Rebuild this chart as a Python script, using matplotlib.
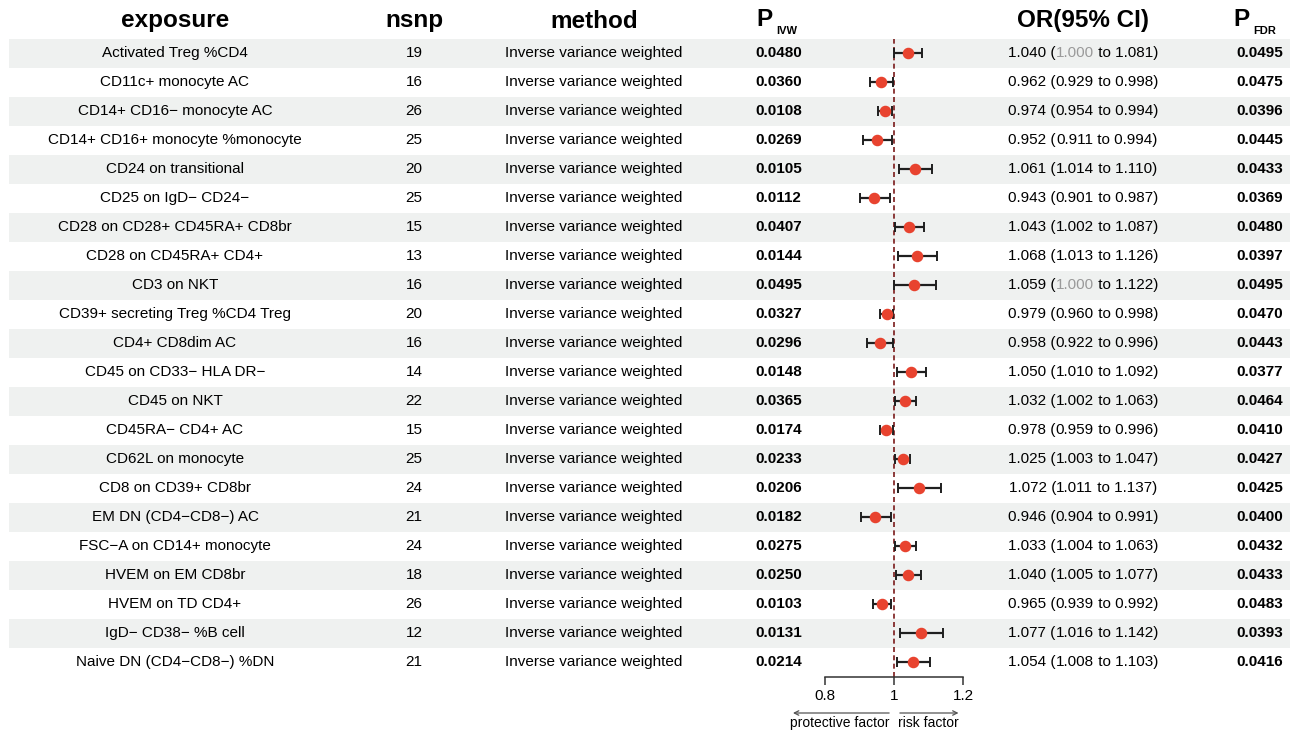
import matplotlib
matplotlib.use("Agg")
import matplotlib.pyplot as plt
from matplotlib.patches import Rectangle

plt.rcParams['font.family'] = ['Liberation Sans', 'DejaVu Sans']

# ---- data -------------------------------------------------------------
exposure = [
    "Activated Treg %CD4", "CD11c+ monocyte AC", "CD14+ CD16\u2212 monocyte AC",
    "CD14+ CD16+ monocyte %monocyte", "CD24 on transitional",
    "CD25 on IgD\u2212 CD24\u2212", "CD28 on CD28+ CD45RA+ CD8br",
    "CD28 on CD45RA+ CD4+", "CD3 on NKT", "CD39+ secreting Treg %CD4 Treg",
    "CD4+ CD8dim AC", "CD45 on CD33\u2212 HLA DR\u2212", "CD45 on NKT",
    "CD45RA\u2212 CD4+ AC", "CD62L on monocyte", "CD8 on CD39+ CD8br",
    "EM DN (CD4\u2212CD8\u2212) AC", "FSC\u2212A on CD14+ monocyte",
    "HVEM on EM CD8br", "HVEM on TD CD4+", "IgD\u2212 CD38\u2212 %B cell",
    "Naive DN (CD4\u2212CD8\u2212) %DN",
]
nsnp = [19, 16, 26, 25, 20, 25, 15, 13, 16, 20, 16, 14, 22, 15, 25, 24, 21,
        24, 18, 26, 12, 21]
method = "Inverse variance weighted"
p_ivw = [0.0480, 0.0360, 0.0108, 0.0269, 0.0105, 0.0112, 0.0407, 0.0144,
         0.0495, 0.0327, 0.0296, 0.0148, 0.0365, 0.0174, 0.0233, 0.0206,
         0.0182, 0.0275, 0.0250, 0.0103, 0.0131, 0.0214]
or_est = [1.040, 0.962, 0.974, 0.952, 1.061, 0.943, 1.043, 1.068, 1.059,
          0.979, 0.958, 1.050, 1.032, 0.978, 1.025, 1.072, 0.946, 1.033,
          1.040, 0.965, 1.077, 1.054]
or_lo = [1.000, 0.929, 0.954, 0.911, 1.014, 0.901, 1.002, 1.013, 1.000,
         0.960, 0.922, 1.010, 1.002, 0.959, 1.003, 1.011, 0.904, 1.004,
         1.005, 0.939, 1.016, 1.008]
or_hi = [1.081, 0.998, 0.994, 0.994, 1.110, 0.987, 1.087, 1.126, 1.122,
         0.998, 0.996, 1.092, 1.063, 0.996, 1.047, 1.137, 0.991, 1.063,
         1.077, 0.992, 1.142, 1.103]
p_fdr = [0.0495, 0.0475, 0.0396, 0.0445, 0.0433, 0.0369, 0.0480, 0.0397,
         0.0495, 0.0470, 0.0443, 0.0377, 0.0464, 0.0410, 0.0427, 0.0425,
         0.0400, 0.0432, 0.0433, 0.0483, 0.0393, 0.0416]
x_ticks = [0.8, 1, 1.2]
x_ticklabels = ["0.8", "1", "1.2"]

# ---- layout (pixels) --------------------------------------------------
W, H = 1298, 733
ROW0, ROWH = 53, 29
n = len(exposure)
FS, HFS = 11, 17.5
BG = "#EFF1F0"

fig = plt.figure(figsize=(W / 100, H / 100), dpi=100)
tab = fig.add_axes([0, 0, 1, 1])
tab.set_xlim(0, W)
tab.set_ylim(H, 0)
tab.axis("off")
renderer = fig.canvas.get_renderer()

# headers
hy = 21
tab.text(175, hy, "exposure", ha="center", va="center", fontsize=HFS, weight="bold")
tab.text(414, hy, "nsnp", ha="center", va="center", fontsize=HFS, weight="bold")
tab.text(594, hy, "method", ha="center", va="center", fontsize=HFS, weight="bold")
tab.text(756, hy - 1, "P", ha="left", va="center", fontsize=HFS, weight="bold")
tab.text(776, hy + 10, "IVW", ha="left", va="center", fontsize=8, weight="bold")
tab.text(1083, hy, "OR(95% CI)", ha="center", va="center", fontsize=HFS, weight="bold")
tab.text(1233, hy - 1, "P", ha="left", va="center", fontsize=HFS, weight="bold")
tab.text(1253, hy + 10, "FDR", ha="left", va="center", fontsize=8, weight="bold")


def pieces(xc, y, parts):
    """draw a centred line made of (text, colour) parts"""
    arts = [tab.text(0, y, s, ha="left", va="center", fontsize=FS, color=c)
            for s, c in parts]
    widths = [a.get_window_extent(renderer).width for a in arts]
    x = xc - sum(widths) / 2
    for a, w in zip(arts, widths):
        a.set_x(x)
        x += w


for i in range(n):
    y = ROW0 + ROWH * i
    if i % 2 == 0:
        tab.add_patch(Rectangle((9, y - ROWH / 2), 1281, ROWH, color=BG, lw=0, zorder=0))
    tab.text(175, y, exposure[i], ha="center", va="center", fontsize=FS)
    tab.text(414, y, str(nsnp[i]), ha="center", va="center", fontsize=FS)
    tab.text(594, y, method, ha="center", va="center", fontsize=FS)
    tab.text(755, y, f"{p_ivw[i]:.4f}", ha="left", va="center", fontsize=FS, weight="bold")
    tab.text(1236, y, f"{p_fdr[i]:.4f}", ha="left", va="center", fontsize=FS, weight="bold")

    lo_s = f"{or_lo[i]:.3f}"
    lo_c = "#9A9A9A" if lo_s == "1.000" else "black"
    pieces(1083, y, [(f"{or_est[i]:.3f} (", "black"), (lo_s, lo_c),
                     (f" to {or_hi[i]:.3f})", "black")])

# ---- forest panel -----------------------------------------------------
x0, x1 = 825, 963
top, bot = ROW0 - ROWH / 2, ROW0 + ROWH * (n - 1) + ROWH / 2
fax = fig.add_axes([x0 / W, 1 - bot / H, (x1 - x0) / W, (bot - top) / H])
fax.patch.set_alpha(0)
fax.set_xlim(0.8, 1.2)
fax.set_ylim(n - 0.5, -0.5)
rows = list(range(n))

fax.axvline(1, color="#7A1A1A", lw=1.2, ls=(0, (3, 2)), zorder=1)
err = [[e - l for e, l in zip(or_est, or_lo)], [h - e for e, h in zip(or_est, or_hi)]]
fax.errorbar(or_est, rows, xerr=err, fmt="none", ecolor="#1f1f1f",
             elinewidth=1.6, capsize=3.5, capthick=1.4, zorder=2)
fax.plot(or_est, rows, "o", color="#E8432F", ms=7.3, mec="#E8432F", zorder=3)

for s in ("top", "left", "right"):
    fax.spines[s].set_visible(False)
fax.spines["bottom"].set_bounds(0.8, 1.2)
fax.spines["bottom"].set_color("#333333")
fax.spines["bottom"].set_linewidth(1.1)
fax.set_yticks([])
fax.set_xticks(x_ticks)
fax.set_xticklabels(x_ticklabels, fontsize=FS)
fax.tick_params(axis="x", direction="out", length=6, width=1.1, color="#333333", pad=3)

ah = bot - top
ya = -(713 - bot) / ah
yt = -(723 - bot) / ah
arrow = dict(arrowstyle="->", color="#555555", lw=0.9, mutation_scale=8)
fax.annotate("", xy=(0.699, ya), xytext=(0.994, ya),
             xycoords=("data", "axes fraction"), arrowprops=arrow, annotation_clip=False)
fax.annotate("", xy=(1.195, ya), xytext=(1.009, ya),
             xycoords=("data", "axes fraction"), arrowprops=arrow, annotation_clip=False)
fax.text(0.843, yt, "protective factor", transform=fax.get_xaxis_transform(),
         ha="center", va="center", fontsize=10)
fax.text(1.101, yt, "risk factor", transform=fax.get_xaxis_transform(),
         ha="center", va="center", fontsize=10)

fig.savefig("out.png", dpi=100)
